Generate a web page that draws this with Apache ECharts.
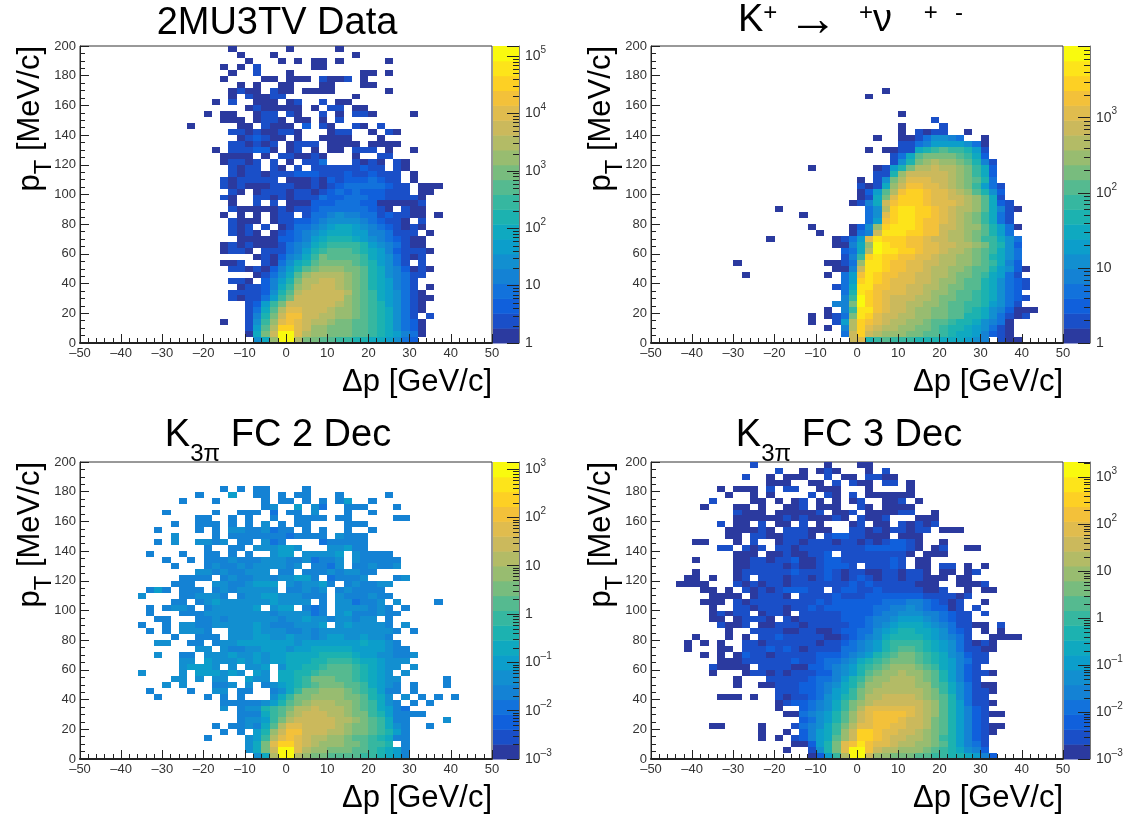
<!DOCTYPE html>
<html><head><meta charset="utf-8">
<script src="https://cdn.jsdelivr.net/npm/echarts@6/dist/echarts.min.js"></script>
<style>html,body{margin:0;padding:0;background:#fff}#c{width:1127px;height:816px}</style>
</head><body><div id="c"></div>
<script>
// Each row is one pT bin, top (196-200 MeV/c) to bottom (0-4 MeV/c).
// Tokens are "firstColumn:levels"; a level is the colour contour (base-20 digit).
const xBinWidth = 2, yBinWidth = 4, xStart = -50, levelCount = 20;
const palette = ['#2b3a9f','#1a4fc8','#1060dc','#1272dc','#1482d4','#128fd0','#0c9ecb','#0fa9c0','#1cb2b0','#36b7a0',
  '#55ba90','#78bc7e','#98bc70','#b3bb66','#cbb95c','#e0bc4e','#f3c13a','#fdd024','#fde41a','#f9fa0e'];

const rowsData = [
"18:0 25:0 31:0","19:0 23:0 33:0","20:0 24:0 26:0 28:00 31:0 37:0","17:0 19:0 21:1 28:00","18:0 21:1 25:0 34:00 37:0",
"17:0 22:00 25:000 29:1 30:00 32:1 34:0","19:0 21:0 24:00 29:00 34:00","18:01 20:00 23:1 24:00 27:0000 37:0","18:0 20:1 21:00 23:11 33:0",
"16:0 18:1 21:000 25:0 26:1 29:1 31:00","20:0 21:1 22:00000 28:0 30:11 33:00","15:0 17:00 21:0 22:11 25:1 26:0 29:1 31:0 33:11 35:0 40:0",
"17:000 21:011 24:0 26:00 29:0 31:1","13:0 19:00 22:1 23:000 27:2 29:1 30:0 33:1 34:0 36:1","18:11 20:0 21:1 22:00 24:11 26:0 30:0 31:11 35:0 37:1 38:0",
"19:0 20:1 21:2 22:1 23:00 26:0 29:0000 36:0","18:11 20:0 21:1 22:0 23:1 25:0 26:1 27:1 28:1 30:0000 35:0 36:000","16:0 18:111 21:22 23:0 25:0 26:1 28:0 30:00 33:111 37:0 40:0",
"17:0000 22:0 24:11 26:00 28:1 29:0 33:0 36:11","17:0 18:11 20:0 21:1 23:1 25:0 27:1 28:1 29:3 33:1 34:0 35:1 36:0 38:1 39:0",
"18:1 19:0 20:11 23:1 24:0 26:1 28:111111 34:2 35:11 38:1 39:0","18:1 19:0 20:11 22:0 23:111 26:222 29:111 32:2 33:11 35:2 36:111 40:0",
"17:1 18:0 19:11111 25:000 28:1 29:0 30:2 31:1 32:222 35:3 36:2 37:11 40:0","17:1 18:0 19:1 20:00 22:0 23:111 26:00 28:1 29:0 30:1 31:2 32:33333 37:2 38:11 41:000",
"18:1 19:0 21:0 22:111 25:0 26:11 28:0 29:1 30:2 31:3 32:2 33:3 34:222 37:111 41:00","17:1 18:0 21:11 23:0 24:1 25:0 26:111 29:3 30:22 32:333 35:22 37:1111 41:0",
"18:0 21:1 23:1 25:000 28:22 30:2 31:333 34:22 36:00000 41:1","18:1 19:0000 23:0 24:1 25:0 26:11 28:2 29:33333 34:3 35:2 36:1 37:0 39:1 40:00",
"17:0 19:0 21:0 23:0 24:11 27:1 28:33 30:4 31:5 32:44 34:33 36:1 37:2 38:11 40:00 43:0","18:1 19:000 23:0 24:11 26:22 28:3 29:4 30:555 33:5 34:4 35:3 36:2 37:11 39:0 41:1",
"18:1 19:0 20:1 22:1 24:0 25:1 26:33 28:4 29:5 30:6 31:77 33:6 34:5 35:4 36:3 37:2 38:1 39:0 40:1 41:0","18:1 19:0 20:1 21:0 23:0 24:1 25:2 26:3 27:4 28:5 29:6 30:777 33:66 35:44 37:3 38:1 39:11 42:0",
"19:00000 24:22 26:3 27:4 28:6 29:7 30:888 33:7 34:6 35:5 36:4 37:3 38:2 39:1 40:00","17:0 18:1 19:0 20:1 21:000 24:1 25:3 26:4 27:5 28:7 29:8 30:9999 34:8 35:6 36:5 37:4 38:3 39:1 40:00",
"17:0 18:11 20:0 22:111 25:3 26:4 27:6 28:8 29:9 30:aaa 33:9 34:8 35:7 36:6 37:4 38:2 39:111 42:0","21:0 22:1 23:0 24:2 25:4 26:5 27:7 28:9 29:b 30:aaaa 34:9 35:7 36:6 37:5 38:3 39:1 40:0 41:1",
"17:001 22:1 23:0 24:3 25:5 26:7 27:8 28:a 29:bbbb 33:a 34:9 35:8 36:6 37:5 38:3 39:1 41:1","18:110 21:1 22:0 23:2 24:4 25:6 26:8 27:a 28:b 29:ccc 32:bb 34:a 35:8 36:7 37:5 38:4 39:2 40:0 41:1 42:0",
"21:0 22:1 23:3 24:5 25:7 26:a 27:c 28:dddd 32:cb 34:a 35:8 36:7 37:5 38:4 39:3 40:11","18:110 22:2 23:4 24:6 25:8 26:b 27:d 28:d 29:ee 31:d 32:c 33:b 34:a 35:8 36:7 37:6 38:4 39:3 40:1",
"19:0 20:11 22:2 23:4 24:7 25:9 26:c 27:d 28:eee 31:dc 33:b 34:a 35:8 36:7 37:6 38:4 39:3 40:1 42:0","18:1111 22:2 23:5 24:8 25:a 26:d 27:eeeee 32:d 33:b 34:a 35:9 36:7 37:6 38:5 39:3 40:1 41:0",
"18:1011 22:3 23:6 24:9 25:b 26:e 27:eeee 31:e 32:c 33:b 34:a 35:9 36:7 37:6 38:5 39:3 40:1 41:00","20:1 21:2 22:6 23:9 24:b 25:e 26:eeeee 31:d 32:c 33:b 34:a 35:9 36:8 37:6 38:5 39:3 40:1 41:0",
"20:1 21:3 22:7 23:a 24:d 25:ff 27:eee 30:d 31:cc 33:b 34:a 35:9 36:8 37:7 38:5 39:3 40:1 41:0","20:1 21:4 22:8 23:b 24:e 25:gg 27:ee 29:dd 31:cc 33:b 34:a 35:9 36:8 37:7 38:5 39:3 40:1 42:1",
"17:0 20:1 21:5 22:9 23:c 24:f 25:g 26:f 27:e 28:dd 30:c 31:bb 33:aa 35:9 36:8 37:7 38:5 39:3 40:2 41:0","20:1 21:6 22:a 23:d 24:hh 26:f 27:e 28:cc 30:bbb 33:aa 35:9 36:8 37:7 38:5 39:3 40:2 41:0",
"20:0 21:7 22:b 23:e 24:jj 26:f 27:d 28:cc 30:bbb 33:aa 35:9 36:8 37:7 38:6 39:4 40:3 41:0","21:57cjjdbbaa9988776532"
];

const rowsKmu = [
"","","","","","","","28:0","26:0","","","30:0","34:1","30:0 35:1","30:0 32:1 33:0 34:11 38:0","27:0 30:00 32:1 33:3 34:5 35:5 36:4 37:3 40:0",
"30:11 32:3 33:4 34:666 37:6 38:5 39:3 40:0","26:0 28:00 30:11 32:7 33:8 34:9 35:a 36:99 38:8 39:6 40:1","29:1 30:3 31:7 32:a 33:bbbb 37:a 38:9 39:7 40:2",
"29:1 30:5 31:8 32:b 33:c 34:d 35:cc 37:b 38:a 39:8 40:4 41:1","19:0 27:0 28:1 29:6 30:8 31:b 32:dd 34:e 35:dd 37:c 38:b 39:9 40:7 41:2","27:11 29:8 30:c 31:eeeee 36:d 37:c 38:b 39:9 40:7 41:2",
"25:0 27:1 28:5 29:b 30:d 31:f 32:ff 34:ee 36:d 37:c 38:b 39:a 40:8 41:3","25:1 26:0 27:1 28:7 29:c 30:e 31:g 32:g 33:ff 35:e 36:d 37:c 38:b 39:9 40:6 41:3 42:1",
"25:0 26:2 27:6 28:a 29:d 30:g 31:hh 33:gf 35:f 36:e 37:d 38:c 39:a 40:8 41:5 42:2","25:0 26:1 27:7 28:b 29:f 30:h 31:h 32:hg 34:ff 36:ee 38:d 39:c 40:a 41:7 42:1",
"24:0 25:1 26:4 27:7 28:e 29:g 30:hhh 33:g 34:fff 37:e 38:d 39:c 40:a 41:7 42:2 43:1","15:0 26:3 27:5 28:d 29:h 30:ii 32:hh 34:g 35:f 36:e 37:dd 39:c 40:a 41:7 42:4 43:1 44:0",
"18:0 26:3 27:5 28:f 29:h 30:ii 32:hh 34:g 35:f 36:e 37:d 38:c 39:b 40:9 41:7 42:3 43:1","26:3 27:6 28:g 29:h 30:ii 32:h 33:gg 35:f 36:e 37:d 38:c 39:b 40:9 41:7 42:3 43:1",
"19:0 24:0 25:2 26:5 27:c 28:h 29:iii 32:h 33:gg 35:ee 37:d 38:cc 40:a 41:8 42:6 43:3 44:0","20:0 24:0 25:3 26:4 27:e 28:i 29:ii 31:hh 33:gg 35:e 36:dd 38:c 39:b 40:a 41:8 42:6 43:3",
"14:0 22:0 23:1 24:3 25:6 26:f 27:i 28:hhh 31:gg 33:f 34:ee 36:dd 38:c 39:b 40:9 41:9 42:7 43:5 44:3","22:0 23:0 24:4 25:7 26:c 27:j 28:i 29:hh 31:gg 33:ff 35:ee 37:dd 39:c 40:b 41:9 42:8 43:5 44:2",
"23:2 24:3 25:7 26:d 27:j 28:ii 30:hh 32:g 33:ff 35:e 36:dd 38:c 39:b 40:a 41:9 42:7 43:5 44:3","23:1 24:4 25:9 26:h 27:i 28:hh 30:gg 32:ff 34:e 35:dd 37:cc 39:b 40:a 41:8 42:7 43:5 44:3",
"10:0 21:0 22:0 23:1 24:3 25:c 26:ii 28:h 29:gg 31:ff 33:ee 35:dd 37:cc 39:b 40:a 41:9 42:7 43:4 44:2","22:00 24:4 25:e 26:ii 28:h 29:gg 31:ff 33:e 34:dd 36:cc 38:b 39:aa 41:8 42:6 43:5 44:2 45:0",
"11:0 21:0 23:3 24:6 25:g 26:i 27:h 28:gg 30:ff 32:ee 34:dd 36:c 37:bb 39:a 40:9 41:7 42:6 43:3 44:1","23:3 24:6 25:h 26:i 27:h 28:g 29:fff 32:ee 34:d 35:cc 37:b 38:aa 40:8 41:7 42:5 43:3 44:2 45:1",
"22:1 23:3 24:7 25:ii 27:gg 29:ff 31:ee 33:dd 35:c 36:bb 38:aa 40:8 41:7 42:5 43:3 44:2 45:1","23:3 24:8 25:i 26:h 27:g 28:fff 31:ee 33:d 34:cc 36:b 37:aa 39:9 40:8 41:7 42:5 43:3 44:2",
"23:4 24:9 25:j 26:h 27:g 28:f 29:eee 32:dd 34:c 35:bb 37:aa 39:9 40:8 41:7 42:5 43:3 44:2 45:1","22:4 23:4 24:b 25:j 26:h 27:g 28:f 29:ee 31:dd 33:cc 35:b 36:aa 38:99 40:8 41:6 42:5 43:3 44:1",
"21:0 23:4 24:9 25:ii 27:g 28:f 29:ee 31:d 32:cc 34:bb 36:aa 38:9 39:8 40:7 41:5 42:4 43:2 44:0 45:00","19:0 21:0 22:1 23:3 24:b 25:i 26:h 27:f 28:ee 30:dd 32:cc 34:bb 36:aa 38:88 40:7 41:5 42:3 43:1 44:0 45:1",
"19:0 22:1 23:6 24:d 25:h 26:g 27:f 28:e 29:dd 31:cc 33:b 34:aa 36:9 37:88 39:7 40:5 41:4 42:3 43:0","21:0 23:4 24:d 25:h 26:f 27:e 28:dd 30:cc 32:bb 34:a 35:9 36:88 38:7 39:6 40:5 41:3 42:1 43:0",
"23:3 24:e 25:h 26:e 27:d 28:ccc 31:bb 33:aa 35:9 36:8 37:77 39:6 40:4 41:2 42:1 43:0","24:ef89a999888777654 42:1 43:0 44:0"
];

const rows3pi2 = [
"17:4 19:4 21:44 27:4","14:4 18:6 21:44 24:4 26:44 31:4 37:4","12:4 16:4 22:4 24:44 27:4 29:4 31:46 35:4","22:4 23:5 26:6 28:5 29:3 32:444 38:4","10:4 16:4 19:444 23:3 25:44 28:5 32:4 35:4",
"14:44 18:4 20:4 23:4 26:44 28:44 31:44 38:44","11:4 14:444 18:4 20:4 22:5 24:4 26:44 32:444","9:4 14:4 16:4 18:55445 23:344 27:4 29:4 32:4 35:4","11:5 16:4 18:4444444 25:34 27:4 28:44 31:5444",
"9:4 11:5 14:5545 19:44 22:534 29:344 32:444","15:4 18:44 21:555 24:66 26:5 30:55 32:6 33:44","8:4 12:4 15:44 18:4 20:4 23:5 24:66 27:5555 31:6 33:5 34:4444","10:4 13:4 15:4445 19:44 21:4555 25:44 27:5 28:3445 33:5 34:4 35:44 37:4 38:4",
"11:4 15:45 17:4 18:45 20:4555 24:54 26:5 28:44 30:35 33:445 36:445","14:55 16:45 18:4 19:4 20:5 21:55 24:44 27:4 28:445 31:45 33:5 34:44","12:44 14:44 17:45 19:4 20:45 22:5 23:4 24:5 25:56 27:6 28:4 30:3 31:4 32:4 33:4 34:5 38:45",
"11:4 12:44 16:5 17:54 19:4 20:5 21:66 23:6 25:54 27:55 29:6 30:4 32:4 33:5 34:4 35:4 36:5 37:5","8:4 9:6 10:4 12:4 13:44 16:4 17:5 18:4 19:5 20:5 21:5 22:5 23:5 25:4 26:4 27:5 28:4 29:5 31:4 32:5 33:4 34:4 35:44",
"7:5 12:4 13:4 14:5 15:55 17:4 19:4 20:55 22:66 24:55 26:5 27:4 28:44 31:5 32:4 33:4 34:4 35:5 36:4 37:4","11:4 12:4 14:4 15:56 17:5 18:5 19:5 20:5 21:55 23:6 24:55 26:5 27:5 29:4 31:55 33:3 34:4 35:45 38:5 43:4",
"8:4 10:45 12:5 13:4 15:4 16:5 17:5 18:5 19:5 20:56 23:56 25:6 27:4 28:3 29:4 31:55 33:55 35:4 36:5 37:4 39:4","8:4 12:44 14:4 15:5 16:55 18:55 20:55 22:5 23:4 24:55 26:5 27:5 28:3 29:4 31:5 32:6 33:4 34:4 35:45 37:4 38:4",
"9:44 14:4 15:45 17:4 18:5 19:5 20:55 22:5 23:5 24:4 25:5 26:5 27:6 28:5 29:5 30:4 31:5 32:5 33:45 35:5 37:4","7:4 10:4 12:5 13:5 14:4 15:4 16:5 17:55 19:5 20:5 21:6 22:5 23:44 25:4 26:5 27:5 28:5 29:6 31:5 32:6 33:5 34:5 35:5 36:5 37:4 39:5",
"8:4 10:4 12:5 13:55 15:4 18:5 19:5 20:5 21:6 22:5 23:5 24:5 25:4 26:4 27:5 28:4 29:5 30:5 31:5 32:5 33:5 34:5 35:5 36:5 37:5 38:4 40:4","11:4 14:4 15:44 18:55 20:5 21:6 22:6 23:5 24:5 25:6 26:5 27:5 28:4 29:5 30:6 31:6 32:5 33:5 34:6 35:5 36:5 37:4",
"9:55 13:44 16:45 18:5 19:6 20:6 21:6 22:6 23:6 24:6 25:6 26:5 27:6 28:6 29:6 30:6 31:6 32:6 33:6 34:7 35:6 36:6 37:5 38:4","14:5 15:5 17:5 18:44 20:5 21:5 22:6 23:6 24:6 25:5 26:6 27:6 28:7 29:7 30:7 31:7 32:7 33:6 34:6 35:6 36:6 37:5 38:4 39:4",
"9:5 12:4 13:4 15:5 16:5 17:5 18:6 19:5 20:5 21:6 22:5 23:6 24:6 25:7 26:7 27:7 28:7 29:8 30:8 31:8 32:8 33:7 34:6 35:6 36:5 37:5 38:4 39:4 40:5","12:5 13:5 15:6 16:5 17:5 18:5 19:6 20:5 21:6 22:5 23:6 24:6 25:7 26:7 27:7 28:8 29:8 30:9 31:9 32:9 33:8 34:7 35:7 36:6 37:5 38:5 39:5",
"12:5 13:6 14:66 16:5 18:5 20:5 21:5 22:6 24:5 25:7 26:7 27:8 28:8 29:9 30:a 31:a 32:a 33:9 34:8 35:7 36:6 37:5 38:5 40:5","7:5 12:5 14:6 15:6 16:6 17:5 18:6 19:5 21:6 22:5 24:7 25:7 26:8 27:8 28:9 29:a 30:a 31:a 32:a 33:9 34:8 35:7 36:6 37:5 39:5",
"11:5 12:5 14:5 16:55 20:6 21:55 24:7 25:7 26:8 27:9 28:b 29:bb 31:a 32:a 33:9 34:8 35:7 36:6 37:5 38:5 44:4","10:5 12:5 16:44 18:5 20:5 22:4 23:5 24:6 25:7 26:8 27:9 28:a 29:b 30:b 31:b 32:a 33:a 34:9 35:7 36:6 37:5 38:4 40:4 44:4",
"8:4 13:4 16:55 19:4 20:4 23:4 24:5 25:7 26:9 27:b 28:b 29:ccc 32:b 33:a 34:9 35:8 36:6 37:4 38:4 40:4","9:4 15:4 17:4 19:4 23:5 24:7 25:9 26:b 27:b 28:cccc 32:b 33:b 34:a 35:8 36:7 37:5 39:5 41:4 43:4 45:4",
"17:4 18:4 19:4 20:4 21:4 22:5 23:6 24:8 25:a 26:b 27:c 28:ddd 31:c 32:c 33:b 34:a 35:9 36:7 37:5 38:4 40:4 42:4","17:5 19:4 20:5 21:5 22:8 23:9 24:a 25:b 26:d 27:d 28:e 29:ddd 32:c 33:b 34:a 35:9 36:7 37:6 38:4 39:3",
"19:4 20:4 21:4 22:7 23:9 24:a 25:c 26:d 27:eee 30:dd 32:c 33:bb 35:9 36:8 37:6 38:4 39:4 40:4 41:4","19:4 20:5 21:5 22:6 23:9 24:b 25:d 26:eeeee 31:dd 33:c 34:b 35:a 36:9 37:7 38:4 39:4 44:5",
"16:4 18:44 20:5 21:4 22:7 23:a 24:d 25:ff 27:eeee 31:d 32:c 33:bb 35:a 36:9 37:7 38:5 39:4 42:4","17:4 19:4 21:6 22:8 23:c 24:e 25:gg 27:eee 30:dd 32:c 33:bb 35:a 36:9 37:8 38:6 39:4",
"15:4 20:5 21:6 22:9 23:d 24:f 25:g 26:f 27:e 28:dd 30:cc 32:b 33:aa 35:9 36:8 37:7 38:4 39:4","20:5 21:7 22:b 23:f 24:hh 26:f 27:e 28:d 29:ccc 32:bb 34:a 35:99 37:8 39:4",
"20:5 21:7 22:b 23:e 24:jj 26:f 27:d 28:cc 30:bbb 33:aa 35:9 36:8 37:7 38:6 39:4","21:57djjdcbbaaaa998764"
];

const rows3pi3 = [
"12:1 21:0 25:00","15:1 18:0 20:0 21:1 22:0 26:0 28:1","11:1 14:0 16:00 18:0 21:1 23:00 26:1 27:1 28:00","14:000 19:00 22:1 24:1 25:00 28:11 31:0","8:0 10:000 14:1 16:11 20:000 26:0 31:0",
"9:0 12:0 14:0 19:1 21:1 22:0 24:1 26:000000","7:1 12:00 15:0 17:0 18:1 20:0 22:0 24:01 28:00 30:1 32:0","6:0 10:00 13:0 16:000 18:1 20:000 25:1 26:0 28:0 29:0 30:00","10:1 11:00 13:0 15:00000 20:1 22:00 24:1 26:000 29:0 30:11 34:0",
"10:0 11:000 14:00 16:1 17:0 18:1 19:00 21:0 22:1 23:0 25:1 26:0 27:0 28:1 32:000","8:1 10:0 11:0 13:1 15:00 18:1 20:0 24:0 25:1 27:0 28:0 30:1 31:0 32:1 33:0 34:1",
"9:0 10:000 13:1 14:0 16:1 17:1 18:1 19:0 20:0 21:0 24:1 25:1 26:0 27:1 28:0 29:1 30:1 31:0 32:1 33:1 35:000","9:00 12:1 13:1 14:0 15:0 16:1 17:1 18:1 19:0 21:1 22:2 23:2 24:1 25:1 26:0 27:0 28:0 30:0 31:0 32:0",
"5:00 10:0 12:1 15:0 16:1 17:1 18:0 19:1 20:1 21:1 22:0 23:1 24:1 25:0 26:1 27:0 28:1 29:2 30:2 31:1 32:0 35:0","8:11 11:1 12:0 13:1 15:1 16:1 17:0 18:1 19:1 20:1 21:1 22:1 23:1 24:1 25:1 26:2 27:2 28:2 29:2 30:2 31:1 32:0 34:0 35:1 38:0 39:0",
"10:00 11:0 12:0 14:0 15:0 16:1 17:0 18:0 19:1 20:1 21:2 23:1 24:1 25:1 26:1 27:1 28:1 29:1 30:1 31:0 33:0 34:0 35:0","5:0 10:0 11:0 12:1 13:1 14:0 15:1 16:1 17:2 18:0 19:0 20:1 21:2 22:2 23:1 24:1 25:1 26:1 27:1 28:1 29:2 30:1 32:0 33:0",
"10:00 12:1 13:1 14:1 15:1 16:0 17:1 18:0 19:0 20:1 21:2 22:2 23:2 24:1 26:1 27:1 28:1 29:2 30:1 32:0 33:0 35:11 38:0 40:0","5:0 10:0 11:1 12:1 13:1 14:1 15:1 16:1 17:2 18:1 19:1 20:1 21:2 22:1 23:0 24:1 25:1 26:0 27:0 28:1 29:1 30:0 31:1 32:1 33:0 35:0 36:0 38:0 39:1",
"4:00 7:0 10:0 11:1 13:1 14:1 15:1 16:0 17:1 18:1 19:0 20:1 21:2 22:1 23:0 24:1 25:2 26:1 27:0 28:1 29:1 30:0 31:1 32:1 33:0 34:0 35:0 37:0 38:0","3:000 6:0 10:1 11:0 12:1 13:0 14:1 15:1 16:0 17:1 18:1 19:1 20:1 21:1 22:1 23:1 24:2 25:1 26:2 27:1 28:1 29:1 30:1 31:1 32:0 33:0 34:0 37:0 38:00 40:1",
"6:0 7:0 9:0 11:1 12:0 13:1 14:0 15:1 16:2 17:2 18:2 19:1 20:1 22:1 23:2 24:2 25:1 26:1 27:2 28:1 29:1 30:1 31:1 32:1 33:0 34:0 35:1 38:0 40:0 41:0","7:0 8:00 10:0 12:0 13:1 14:1 15:1 16:0 18:1 19:1 20:1 21:1 22:2 23:1 24:1 25:1 26:2 27:2 28:2 29:2 30:2 31:2 32:2 33:1 34:1 35:1 36:1 37:0 38:1",
"6:0 7:0 8:0 10:1 11:0 12:1 13:1 14:1 15:1 16:1 17:1 18:1 19:1 20:2 21:1 22:2 23:2 24:2 25:2 26:2 27:2 28:3 29:3 30:3 31:4 32:4 33:3 34:2 35:1 36:0 37:1 40:0","7:0 10:1 11:1 12:0 13:1 14:1 15:1 16:0 17:1 18:1 19:2 20:1 21:2 22:2 23:2 24:2 25:2 26:2 27:3 28:3 29:4 30:4 31:5 32:4 33:3 34:2 35:2 36:0 37:1 39:1",
"7:0 8:1 9:0 10:1 11:1 13:0 14:1 15:1 16:0 18:1 19:1 20:1 21:1 22:1 23:2 24:2 25:2 26:2 27:3 28:4 29:4 30:5 31:5 32:5 33:4 34:4 35:3 36:2 37:1 38:1 40:1","7:00 10:0 11:11 13:1 14:0 16:1 17:0 18:1 19:1 20:1 21:1 22:1 23:2 24:2 25:2 26:3 27:4 28:4 29:5 30:6 31:6 32:6 33:5 34:4 35:3 36:2 37:1 38:1",
"8:1 9:00 11:1 13:0 14:0 15:1 16:1 17:1 18:0 19:1 20:1 21:1 22:1 23:1 24:2 25:2 26:3 27:4 28:5 29:6 30:7 31:7 32:7 33:6 34:5 35:4 36:3 37:1 38:1 39:0 40:0 42:1","9:0 12:1 13:1 14:1 15:1 16:0 17:0 18:1 19:1 20:0 21:0 22:1 23:2 24:2 25:3 26:3 27:5 28:6 29:7 30:8 31:8 32:7 33:7 34:6 35:5 36:3 37:2 38:1 40:0 42:0",
"5:0 9:0 11:0 13:1 14:1 15:2 16:1 17:1 18:1 19:1 20:1 21:0 22:0 23:1 24:2 25:3 26:4 27:5 28:7 29:8 30:8 31:8 32:8 33:7 34:6 35:5 36:4 37:3 38:1 41:0 42:000","4:0 6:0 8:0 11:1 12:1 13:0 14:1 15:1 16:1 17:1 18:1 19:1 20:0 21:1 22:1 23:2 24:3 25:4 26:5 27:6 28:8 29:9 30:9 31:9 32:9 33:8 34:7 35:6 36:5 37:3 38:1 39:0 40:1 41:0",
"4:0 8:0 9:0 11:1 12:1 13:1 14:2 15:1 16:2 17:1 18:0 19:1 20:1 21:1 22:1 23:3 24:3 25:4 26:5 27:6 28:8 29:9 30:a 31:a 32:9 33:8 34:7 35:6 36:5 37:3 38:1 39:1 40:0 41:0","6:0 8:0 10:0 11:2 12:1 13:1 14:0 15:1 16:1 17:1 18:1 19:1 20:2 21:2 22:2 23:3 24:4 25:5 26:6 27:8 28:9 29:a 30:b 31:b 32:a 33:9 34:8 35:7 36:5 37:4 38:2 39:1 40:1",
"8:0 9:0 10:0 11:1 12:1 13:1 14:1 15:1 16:1 17:2 18:1 19:1 20:2 21:3 22:3 23:4 24:5 25:7 26:8 27:9 28:a 29:b 30:b 31:b 32:a 33:9 34:8 35:7 36:6 37:4 38:3 39:1 40:1","7:1 8:000 11:0 13:1 14:1 15:1 16:1 17:0 18:0 19:2 20:2 21:3 22:4 23:5 24:6 25:8 26:9 27:a 28:b 29:c 30:c 31:c 32:b 33:a 34:9 35:7 36:6 37:4 38:2 39:1",
"7:0 11:0 12:1 13:1 14:0 15:1 16:0 17:1 18:1 19:1 20:2 21:2 22:4 23:5 24:6 25:8 26:a 27:b 28:c 29:c 30:d 31:c 32:c 33:b 34:a 35:8 36:6 37:4 38:2 39:1 40:1 41:0","10:0 14:1 15:1 16:1 17:1 18:1 19:2 20:3 21:3 22:4 23:6 24:8 25:9 26:b 27:c 28:c 29:d 30:d 31:d 32:c 33:b 34:a 35:8 36:6 37:4 38:2 39:1",
"10:0 13:0 14:0 15:1 16:1 17:1 18:2 19:2 20:3 21:4 22:5 23:7 24:8 25:a 26:c 27:c 28:d 29:d 30:d 31:d 32:c 33:c 34:a 35:9 36:7 37:5 38:3 39:1 40:0 41:0","15:1 16:1 17:1 18:2 19:2 20:3 21:4 22:6 23:7 24:9 25:b 26:c 27:d 28:d 29:d 30:d 31:d 32:d 33:c 34:b 35:9 36:7 37:5 38:3 39:1 40:1 41:0",
"8:000 12:0 15:1 16:0 17:1 18:1 19:2 20:3 21:5 22:6 23:8 24:9 25:b 26:d 27:d 28:e 29:e 30:e 31:e 32:d 33:c 34:b 35:a 36:8 37:5 38:3 39:1 40:1","15:0 16:1 17:2 18:2 19:3 20:4 21:5 22:7 23:9 24:b 25:c 26:d 27:e 28:e 29:e 30:e 31:e 32:e 33:d 34:c 35:a 36:8 37:6 38:3 39:1 40:1 41:0",
"15:0 18:2 19:3 20:4 21:5 22:7 23:9 24:b 25:d 26:f 27:f 28:f 29:f 30:f 31:f 32:e 33:d 34:c 35:a 36:8 37:6 38:4 39:2 40:1","16:0 17:0 18:3 19:4 20:5 21:6 22:8 23:a 24:c 25:e 26:f 27:g 28:g 29:g 30:g 31:f 32:e 33:d 34:c 35:a 36:8 37:6 38:4 39:2 40:1 41:00",
"18:2 19:3 20:5 21:6 22:8 23:a 24:c 25:e 26:f 27:g 28:g 29:g 30:f 31:e 32:e 33:d 34:b 35:a 36:8 37:6 38:4 39:2 40:1","7:00 13:0 17:1 18:3 19:4 20:5 21:7 22:9 23:b 24:d 25:f 26:f 27:g 28:g 29:f 30:f 31:e 32:e 33:d 34:b 35:a 36:8 37:6 38:4 39:2 40:1 41:00",
"13:0 16:0 18:2 19:4 20:6 21:7 22:9 23:c 24:e 25:h 26:h 27:g 28:f 29:f 30:e 31:e 32:d 33:c 34:b 35:a 36:8 37:6 38:4 39:2 40:1 41:0","13:0 15:0 17:1 18:2 19:4 20:6 21:7 22:a 23:c 24:e 25:h 26:h 27:g 28:f 29:e 30:e 31:d 32:d 33:c 34:b 35:9 36:8 37:6 38:4 39:2 40:1",
"17:00 19:2 20:6 21:8 22:b 23:f 24:g 25:i 26:g 27:f 28:f 29:e 30:d 31:d 32:c 33:c 34:b 35:a 36:8 37:6 38:4 39:3 40:1","16:0 19:1 20:5 21:8 22:b 23:f 24:j 25:j 26:g 27:e 28:d 29:d 30:c 31:c 32:c 33:b 34:a 35:9 36:8 37:7 38:5 39:4 40:2",
"19:0 20:2 21:6 22:9 23:d 24:j 25:j 26:e 27:c 28:c 29:bbb 32:aa 34:99 36:88 38:7 39:6 40:4 41:2"
];

const xTickLabels = [-50,-40,-30,-20,-10,0,10,20,30,40,50];
const yTickLabels = [0,20,40,60,80,100,120,140,160,180,200];
const zRanges = [[1,1.5e5],[1,9000],[1e-3,1400],[1e-3,2100]];
const rowSets = [rowsData, rowsKmu, rows3pi2, rows3pi3];
const lefts = [80,651], tops = [46,462], plotW = 412, plotH = 297;

function decode(rows, zmin, zmax){
  const out=[], n=rows.length;
  rows.forEach((row,r)=>{
    row.trim().split(/\s+/).forEach(tok=>{
      if(!tok) return;
      const [c,lv]=tok.split(':');
      if(lv===undefined) return;
      [...lv].forEach((ch,i)=>{
        if(ch==='.') return;
        const l=parseInt(ch,20);
        const v=zmin*Math.pow(zmax/zmin,(l+0.5)/levelCount);
        out.push([xStart+(+c+i)*xBinWidth, (n-1-r)*yBinWidth, v]);
      });
    });
  });
  return out;
}
function levelEdge(z,i){return z[0]*Math.pow(z[1]/z[0],i/levelCount);}
function cell(params,api){
  const p=api.coord([api.value(0),api.value(1)]);
  const q=api.coord([api.value(0)+xBinWidth,api.value(1)+yBinWidth]);
  return {type:'rect',shape:{x:Math.round(p[0]),y:Math.round(q[1]),width:Math.round(q[0])-Math.round(p[0]),height:Math.round(p[1])-Math.round(q[1])},
    style:{fill:api.visual('color')}};
}
function band(params,api){
  const a=api.coord([0.5,api.value(0)]),b=api.coord([0.5,api.value(1)]);
  const cs=params.coordSys;
  return {type:'rect',shape:{x:cs.x,y:b[1],width:cs.width,height:a[1]-b[1]+0.5},style:{fill:api.visual('color')}};
}
function minorTick(params,api){
  const a=api.coord([0.5,api.value(0)]);
  const cs=params.coordSys, y=Math.round(a[1])+0.5;
  return {type:'line',shape:{x1:cs.x+cs.width-6,y1:y,x2:cs.x+cs.width,y2:y},style:{stroke:'#222',lineWidth:1}};
}
const font='"Liberation Sans",Arial,sans-serif';
const grid=[],xAxis=[],yAxis=[],series=[],visualMap=[];
zRanges.forEach((z,i)=>{
  const L=lefts[i%2],T=tops[i>>1];
  const g=grid.length;
  grid.push({left:L,top:T,width:plotW,height:plotH,show:true,borderColor:'#333',borderWidth:1,backgroundColor:'#fff',z:0});
  xAxis.push({gridIndex:g,type:'value',min:-50,max:50,interval:10,
    axisLine:{onZero:false,lineStyle:{color:'#222',width:2}},
    axisTick:{inside:true,length:9,lineStyle:{color:'#222'}},
    minorTick:{show:true,splitNumber:5,length:5,lineStyle:{color:'#222'}},
    splitLine:{show:false},z:5,
    axisLabel:{color:'#333',fontFamily:font,fontSize:13,margin:4,showMinLabel:true,showMaxLabel:true,
      formatter:v=>String(v).replace('-','\u2013')}});
  yAxis.push({gridIndex:g,type:'value',min:0,max:200,interval:20,
    axisLine:{onZero:false,lineStyle:{color:'#222',width:1}},
    axisTick:{inside:true,length:9,lineStyle:{color:'#222'}},
    minorTick:{show:true,splitNumber:4,length:5,lineStyle:{color:'#222'}},
    splitLine:{show:false},z:5,
    axisLabel:{color:'#333',fontFamily:font,fontSize:13,margin:4,showMinLabel:true,showMaxLabel:true}});
  const hi=series.length;
  series.push({type:'custom',xAxisIndex:g,yAxisIndex:g,coordinateSystem:'cartesian2d',renderItem:cell,
    encode:{x:0,y:1},data:decode(rowSets[i],z[0],z[1]),clip:true,silent:true,animation:false,z:2});
  const c=grid.length;
  grid.push({left:L+plotW+1,top:T,width:26,height:plotH,show:false});
  xAxis.push({gridIndex:c,type:'value',min:0,max:1,show:false});
  yAxis.push({gridIndex:c,type:'log',logBase:10,min:z[0],max:z[1],position:'right',
    axisLine:{onZero:false,show:true,lineStyle:{color:'#777',width:1}},
    axisTick:{inside:true,length:12,lineStyle:{color:'#222'}},
    minorTick:{show:false},
    splitLine:{show:false},z:5,
    axisLabel:{color:'#333',fontFamily:font,fontSize:14,margin:6,showMinLabel:true,showMaxLabel:true,
      formatter:v=>{const lg=Math.log10(v),e=Math.round(lg);
        if(Math.abs(lg-e)>0.01) return '';
        return e===0?'1':e===1?'10':'10{s|'+String(e).replace('-','\u2013')+'}';},
      rich:{s:{fontSize:10,fontFamily:font,color:'#333',verticalAlign:'top',lineHeight:22}}}});
  const bars=[];
  for(let l=0;l<levelCount;l++)bars.push([levelEdge(z,l),levelEdge(z,l+1),levelEdge(z,l+0.5),0.5]);
  const bi=series.length;
  series.push({type:'custom',xAxisIndex:c,yAxisIndex:c,coordinateSystem:'cartesian2d',renderItem:band,
    encode:{x:3,y:[0,1]},data:bars,clip:false,silent:true,animation:false,z:2});
  const minors=[];
  for(let d=Math.floor(Math.log10(z[0]));d<=Math.ceil(Math.log10(z[1]));d++)
    for(let m=2;m<=9;m++){const v=m*Math.pow(10,d);if(v<z[1])minors.push([v,0.5]);}
  series.push({type:'custom',xAxisIndex:c,yAxisIndex:c,coordinateSystem:'cartesian2d',renderItem:minorTick,
    encode:{x:1,y:0},data:minors,clip:false,silent:true,animation:false,z:6});
  visualMap.push({type:'piecewise',show:false,seriesIndex:[hi,bi],dimension:2,
    pieces:palette.map((col,l)=>({gte:levelEdge(z,l),lt:levelEdge(z,l+1),color:col}))});
});

const titleRich={sub:{font:'24px '+font,fill:'#000',verticalAlign:'bottom',lineHeight:60}};
const kmuRich={sup:{font:'24px '+font,fill:'#000',verticalAlign:'top',lineHeight:40},
               arr:{font:'50px '+font,fill:'#000',lineHeight:40}};
function txt(text,x,y,size,align,rot,rich){
  return {type:'text',x:x,y:y,rotation:rot||0,z:20,silent:true,
    style:{text:text,font:size+'px '+font,fill:'#000',align:align,verticalAlign:'middle',rich:rich}};
}
const axisRich={sub:{font:'24px '+font,fill:'#000',verticalAlign:'bottom',lineHeight:52}};
const elements=[
  txt('2MU3TV Data',277,24,38,'center'),
  txt('K{sup|+} {arr|\u2192}  {sup|+}\u03bd   {sup|+} {sup| -}',738,21,38,'left',0,kmuRich),
  txt('K{sub|3\u03c0} FC 2 Dec',278,436,38,'center',0,titleRich),
  txt('K{sub|3\u03c0} FC 3 Dec',849,436,38,'center',0,titleRich)
];
zRanges.forEach((z,i)=>{
  const L=lefts[i%2],T=tops[i>>1];
  elements.push(txt('\u0394p [GeV/c]',L+plotW,T+336,31,'right'));
  elements.push(txt('p{sub|T} [MeV/c]',L-50,T,31,'right',Math.PI/2,axisRich));
});
const chart=echarts.init(document.getElementById('c'),null,{renderer:'canvas'});
chart.setOption({animation:false,backgroundColor:'#fff',grid,xAxis,yAxis,series,visualMap,graphic:{elements}});
</script></body></html>
